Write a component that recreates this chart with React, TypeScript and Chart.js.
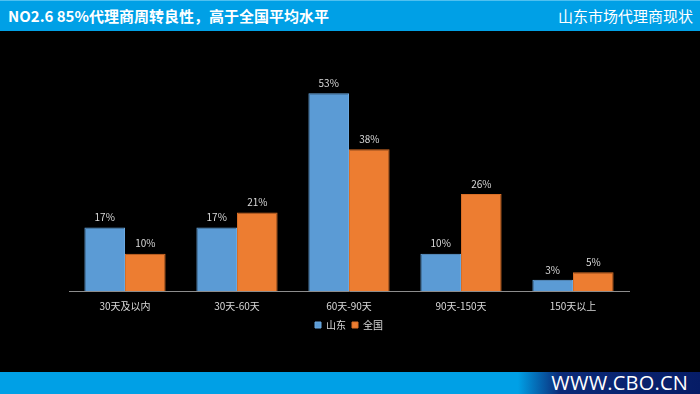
import React, { useEffect, useRef } from "react";
import { Chart, registerables } from "chart.js";

Chart.register(...registerables);

const categories = ["30天及以内", "30天-60天", "60天-90天", "90天-150天", "150天以上"];
const shandong = [17, 17, 53, 10, 3];
const national = [10, 21, 38, 26, 5];
const seriesNames = ["山东", "全国"];
const titleText = "NO2.6 85%代理商周转良性，高于全国平均水平";
const subtitleText = "山东市场代理商现状";
const footerText = "WWW.CBO.CN";

const FONT = "'Noto Sans CJK SC', 'Noto Sans', sans-serif";

const valueLabels = {
  id: "valueLabels",
  afterDatasetsDraw(chart: any) {
    const ctx = chart.ctx;
    ctx.save();
    ctx.fillStyle = "#d9d9d9";
    ctx.font = `10px ${FONT}`;
    ctx.textAlign = "center";
    ctx.textBaseline = "bottom";
    chart.data.datasets.forEach((ds: any, i: number) => {
      const meta = chart.getDatasetMeta(i);
      meta.data.forEach((bar: any, j: number) => {
        ctx.fillText(ds.data[j] + "%", bar.x, bar.y - 5);
      });
    });
    ctx.restore();
  },
};

export default function App() {
  const ref = useRef<HTMLCanvasElement>(null);
  useEffect(() => {
    document.body.style.margin = "0";
    const chart = new Chart(ref.current!, {
      type: "bar",
      data: {
        labels: categories,
        datasets: [
          {
            label: seriesNames[0],
            data: shandong,
            backgroundColor: "#5B9BD5",
            borderColor: "#6AA8E0",
            borderWidth: 1,
            barPercentage: 1,
            categoryPercentage: 0.725,
          },
          {
            label: seriesNames[1],
            data: national,
            backgroundColor: "#ED7D31",
            borderColor: "#D86E26",
            borderWidth: 1,
            barPercentage: 1,
            categoryPercentage: 0.725,
          },
        ],
      },
      options: {
        animation: false,
        responsive: false,
        maintainAspectRatio: false,
        layout: { padding: { left: 69, right: 71, top: 67, bottom: 54 } },
        scales: {
          x: {
            grid: { display: false, drawTicks: false },
            border: { display: true, color: "#8c8c8c", width: 1 },
            ticks: { color: "#d9d9d9", font: { size: 10, family: FONT }, padding: 9 },
            afterFit: (scale: any) => {
              scale.height -= 7;
            },
          },
          y: {
            display: false,
            min: 0,
            max: 60,
          },
        },
        plugins: {
          legend: {
            position: "bottom",
            labels: {
              color: "#d9d9d9",
              font: { size: 10, family: FONT },
              boxWidth: 6,
              boxHeight: 6,
              padding: 6,
            },
          },
          tooltip: { enabled: false },
        },
      },
      plugins: [valueLabels],
    });
    return () => chart.destroy();
  }, []);

  return (
    <div style={{ position: "fixed", left: 0, top: 0, width: 700, height: 394, background: "#000", overflow: "hidden" }}>
      <div style={{ position: "absolute", left: 0, top: 0, width: 700, height: 31, background: "#00A0E6", borderTop: "1px solid #4fc0f0", boxSizing: "border-box" }}>
        <div style={{ position: "absolute", left: 8, top: 5, color: "#fff", fontFamily: FONT, fontWeight: 700, fontSize: 15, lineHeight: "20px", whiteSpace: "nowrap" }}>{titleText}</div>
        <div style={{ position: "absolute", right: 7, top: 5, color: "#fff", fontFamily: FONT, fontSize: 15, lineHeight: "20px", whiteSpace: "nowrap" }}>{subtitleText}</div>
      </div>
      <div style={{ position: "absolute", left: 0, top: 372, width: 700, height: 22, background: "linear-gradient(to right, #00A0E6 0%, #00A0E6 74%, #0b2a78 80%, #061c66 100%)" }}>
        <div style={{ position: "absolute", right: 12, top: 0, color: "#fff", fontFamily: "'Open Sans', sans-serif", fontSize: 20, lineHeight: "22px", letterSpacing: 0.2, whiteSpace: "nowrap" }}>{footerText}</div>
      </div>
      <canvas ref={ref} width={700} height={394} style={{ position: "absolute", left: 0, top: 0, width: 700, height: 394 }} />
    </div>
  );
}
